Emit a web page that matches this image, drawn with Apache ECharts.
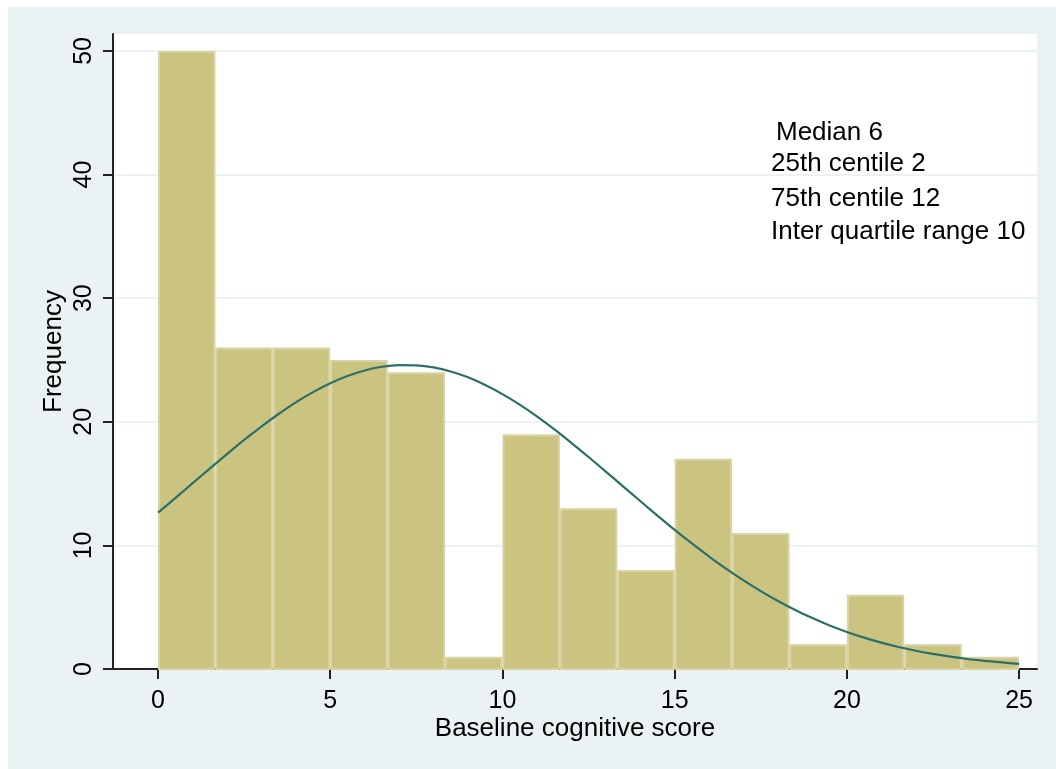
<!DOCTYPE html>
<html>
<head>
<meta charset="utf-8">
<script src="https://cdn.jsdelivr.net/npm/echarts@6/dist/echarts.min.js"></script>
<style>
html,body{margin:0;padding:0;background:#ffffff;}
#chart{position:absolute;left:8px;top:7px;width:1048px;height:762px;background:#EAF2F3;}
</style>
</head>
<body>
<div id="chart"></div>
<script>
// ---- data ----
var binStart = 0;
var binWidth = 25 / 15;
var counts = [50, 26, 26, 25, 24, 1, 19, 13, 8, 17, 11, 2, 6, 2, 1];
var curveX = [0,0.5,1,1.5,2,2.5,3,3.5,4,4.5,5,5.5,6,6.5,7,7.5,8,8.5,9,9.5,10,10.5,11,11.5,12,12.5,
              13,13.5,14,14.5,15,15.5,16,16.5,17,17.5,18,18.5,19,19.5,20,20.5,21,21.5,22,22.5,23,23.5,24,24.5,25];
var curveY = [12.65,13.82,15.02,16.21,17.38,18.53,19.61,20.63,21.57,22.40,23.12,23.70,24.15,24.45,24.59,24.57,24.40,24.07,23.60,22.98,
              22.24,21.39,20.44,19.40,18.30,17.15,15.97,14.78,13.59,12.41,11.26,10.16,9.10,8.10,7.17,6.30,5.50,4.77,4.12,3.52,
              3.00,2.54,2.13,1.78,1.48,1.22,1.00,0.81,0.66,0.53,0.42];
var xTicks = [0, 5, 10, 15, 20, 25];
var yTicks = [0, 10, 20, 30, 40, 50];
var notes = ['Median 6', '25th centile 2', '75th centile 12', 'Inter quartile range 10'];

var barData = counts.map(function (c, i) {
  return [binStart + i * binWidth, binStart + (i + 1) * binWidth, c];
});
var lineData = curveX.map(function (x, i) { return [x, curveY[i]]; });

var chart = echarts.init(document.getElementById('chart'));
var font = 'Liberation Sans, Arial, sans-serif';
var noteTops = [113, 144, 179, 212];
var noteLefts = [768, 763, 763, 763];

chart.setOption({
  backgroundColor: '#EAF2F3',
  animation: false,
  grid: { left: 105, top: 27, right: 19, bottom: 100, show: true, backgroundColor: '#ffffff', borderWidth: 0 },
  xAxis: {
    type: 'value',
    min: -1.307, max: 25.52,
    name: 'Baseline cognitive score',
    nameLocation: 'middle', nameGap: 47, nameMoveOverlap: false,
    nameTextStyle: { fontFamily: font, fontSize: 26, color: '#000' },
    axisLine: { show: true, onZero: false, lineStyle: { color: '#222', width: 2 } },
    axisTick: { show: true, length: 10, customValues: xTicks, lineStyle: { color: '#222', width: 2 } },
    axisLabel: { customValues: xTicks, fontFamily: font, fontSize: 25, color: '#000', margin: 20 },
    splitLine: { show: false }
  },
  yAxis: {
    type: 'value',
    min: 0, max: 51.37,
    name: 'Frequency',
    nameLocation: 'middle', nameGap: 46, nameMoveOverlap: false,
    nameTextStyle: { fontFamily: font, fontSize: 26, color: '#000' },
    axisLine: { show: true, onZero: false, lineStyle: { color: '#222', width: 2 } },
    axisTick: { show: true, length: 10, customValues: yTicks, lineStyle: { color: '#222', width: 2 } },
    axisLabel: { customValues: yTicks, rotate: 90, fontFamily: font, fontSize: 25, color: '#000', margin: 16 },
    splitLine: { show: true, lineStyle: { color: '#EAF2F3', width: 2 } }
  },
  series: [
    {
      type: 'custom',
      data: barData,
      renderItem: function (params, api) {
        var p0 = api.coord([api.value(0), api.value(2)]);
        var p1 = api.coord([api.value(1), 0]);
        return {
          type: 'rect',
          shape: { x: p0[0] + 1, y: p0[1] + 1, width: p1[0] - p0[0] - 2, height: p1[1] - p0[1] - 1 },
          style: { fill: '#CBC380', stroke: '#D9D3A3', lineWidth: 2 }
        };
      },
      z: 2
    },
    {
      type: 'line',
      data: lineData,
      smooth: 0.25,
      showSymbol: false,
      lineStyle: { color: '#2B6F68', width: 2.2 },
      z: 3
    }
  ],
  graphic: notes.map(function (t, i) {
    return {
      type: 'text', left: noteLefts[i], top: noteTops[i], z: 10,
      style: { text: t, fontFamily: font, fontSize: 26, fill: '#000' }
    };
  })
});
</script>
</body>
</html>
